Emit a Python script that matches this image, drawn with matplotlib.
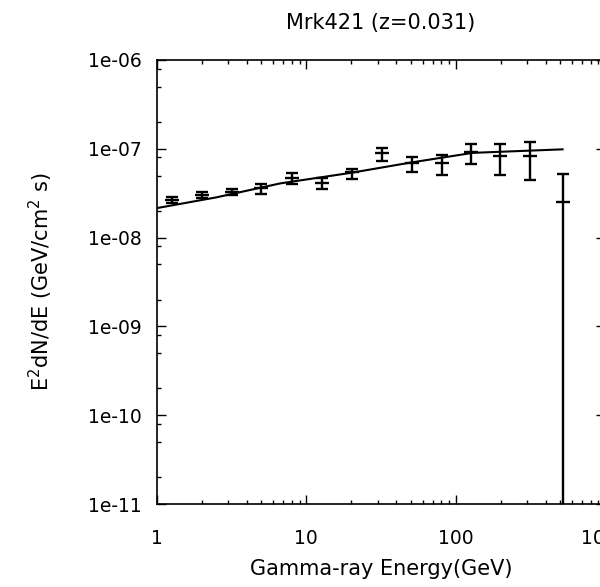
import numpy as np
import matplotlib
matplotlib.use('Agg')
from matplotlib import pyplot as plt
from matplotlib.ticker import LogLocator, FixedLocator, FuncFormatter, NullFormatter

# Mrk421 spectrum: energy (GeV), E^2 dN/dE (GeV/cm^2 s) and error bar limits
energy = [1.26, 2.0, 3.17, 5.0, 7.96, 12.7, 20.2, 32.2, 51.0, 81.0, 126.0, 198.0, 315.0, 520.0]
flux = [2.65e-8, 3.0e-8, 3.3e-8, 3.6e-8, 4.7e-8, 4.07e-8, 5.5e-8, 8.9e-8,
        6.97e-8, 6.87e-8, 9.1e-8, 8.3e-8, 8.3e-8, 2.5e-8]
flux_hi = [2.86e-8, 3.27e-8, 3.57e-8, 4.02e-8, 5.33e-8, 4.69e-8, 5.93e-8, 1.02e-7,
           8.15e-8, 8.5e-8, 1.13e-7, 1.13e-7, 1.2e-7, 5.2e-8]
flux_lo = [2.45e-8, 2.79e-8, 3.02e-8, 3.10e-8, 4.02e-8, 3.52e-8, 4.57e-8, 7.34e-8,
           5.43e-8, 5.07e-8, 6.75e-8, 5.07e-8, 4.46e-8, 1e-13]

# model curve
model_e = [1.0, 2.5, 6.7, 20.0, 50.0, 130.0, 520.0]
model_f = [2.15e-8, 2.84e-8, 4.08e-8, 5.37e-8, 7.0e-8, 9.0e-8, 9.86e-8]

xticks = [1, 10, 100, 1000]
yticks = [1e-11, 1e-10, 1e-9, 1e-8, 1e-7, 1e-6]

plt.rcParams['font.family'] = ['DejaVu Sans']

fig = plt.figure(figsize=(6.0, 5.87), dpi=100)
ax = fig.add_axes([157/600, 83/587, 448/600, 444/587])

e = np.array(energy)
f = np.array(flux)
yerr = [f - np.array(flux_lo), np.array(flux_hi) - f]
ax.errorbar(e, f, yerr=yerr, fmt='_', color='black', ms=10, mew=1.7,
            ecolor='black', elinewidth=1.7, capsize=4, capthick=1.7)
ax.plot(model_e, model_f, color='black', lw=1.5)

ax.set_xscale('log')
ax.set_yscale('log')
ax.set_xlim(1, 1000)
ax.set_ylim(1e-11, 1e-6)

ax.xaxis.set_major_locator(FixedLocator(xticks))
ax.xaxis.set_minor_locator(LogLocator(base=10, subs=np.arange(2, 10)))
ax.xaxis.set_major_formatter(FuncFormatter(lambda v, p: '%d' % v))
ax.xaxis.set_minor_formatter(NullFormatter())
ax.yaxis.set_major_locator(FixedLocator(yticks))
ax.yaxis.set_minor_locator(LogLocator(base=10, subs=[2, 5, 8]))
ax.yaxis.set_major_formatter(FuncFormatter(lambda v, p: '%.0e' % v))
ax.yaxis.set_minor_formatter(NullFormatter())

ax.tick_params(which='both', direction='in', top=True, right=True, width=1.0, labelsize=13.5)
ax.tick_params(which='major', length=6.5)
ax.tick_params(which='minor', length=3)
ax.tick_params(axis='x', pad=18)
ax.tick_params(axis='y', pad=11)
for s in ax.spines.values():
    s.set_linewidth(1.2)

ax.set_title('Mrk421 (z=0.031)', fontsize=15, pad=22)
ax.set_xlabel('Gamma-ray Energy(GeV)', fontsize=15, labelpad=8)
ax.set_ylabel('E$^2$dN/dE (GeV/cm$^2$ s)', fontsize=15, labelpad=24)

fig.savefig('out.png', dpi=100)
